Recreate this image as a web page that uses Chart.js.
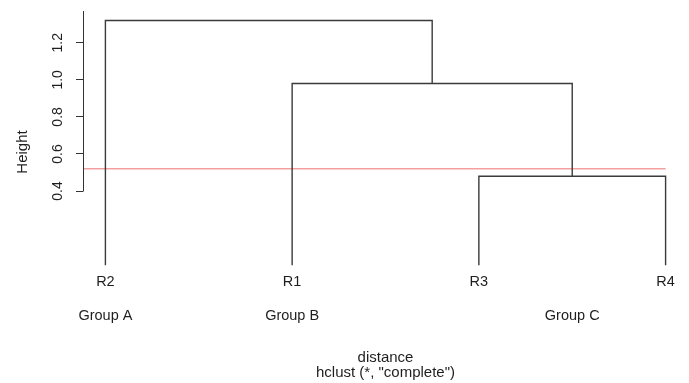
<!DOCTYPE html>
<html>
<head>
<meta charset="utf-8">
<script src="https://cdn.jsdelivr.net/npm/chart.js@4.4.1/dist/chart.umd.min.js"></script>
<style>
html,body{margin:0;padding:0;background:#fff;}
#c{display:block;}
</style>
</head>
<body>
<canvas id="c" width="689" height="383"></canvas>
<script>
// ---- data ----
const leafLabels = ['R2', 'R1', 'R3', 'R4'];
const leafPositions = [1, 2, 3, 4];
const mergeLeft = ['R3', 'R1', 'R2'];
const mergeRight = ['R4', 'M1', 'M2'];
const mergeHeights = [0.48, 0.98, 1.32];
const groupLabels = ['Group A', 'Group B', 'Group C'];
const groupPositions = [1, 2, 3.5];
const cutHeight = 0.52;
const yTicks = [0.4, 0.6, 0.8, 1.0, 1.2];
const xTitle = ['distance', 'hclust (*, "complete")'];
const yTitle = 'Height';

// ---- build dendrogram segments ----
const nodes = {};
leafLabels.forEach((l, i) => { nodes[l] = { x: leafPositions[i], h: 0 }; });
const datasets = [];
mergeHeights.forEach((h, i) => {
  const a = nodes[mergeLeft[i]], b = nodes[mergeRight[i]];
  nodes['M' + (i + 1)] = { x: (a.x + b.x) / 2, h: h };
  datasets.push({
    data: [{x: a.x, y: a.h}, {x: a.x, y: h}, {x: b.x, y: h}, {x: b.x, y: b.h}],
    borderColor: '#3a3a3a', borderWidth: 1.4, pointRadius: 0, tension: 0, fill: false
  });
});
const X_MIN = 0.88, X_MAX = 4.12;
datasets.push({
  data: [{x: X_MIN, y: cutHeight}, {x: leafPositions[leafPositions.length - 1], y: cutHeight}],
  borderColor: 'rgba(240,120,120,0.7)', borderWidth: 1.5, pointRadius: 0, fill: false
});

const textColor = '#1e1e1e';
const FONT = "'Liberation Sans', Arial, sans-serif";

const axisPlugin = {
  id: 'axisPlugin',
  afterDraw(chart) {
    const ctx = chart.ctx, y = chart.scales.y, area = chart.chartArea;
    ctx.save();
    ctx.strokeStyle = '#333';
    ctx.lineWidth = 1;
    const x = Math.round(area.left) + 0.5;
    ctx.beginPath();
    ctx.moveTo(x, Math.round(y.getPixelForValue(yTicks[0])) + 0.5);
    ctx.lineTo(x, area.top + 1);
    ctx.stroke();
    ctx.fillStyle = textColor;
    ctx.font = '15px ' + FONT;
    ctx.textAlign = 'center';
    ctx.textBaseline = 'middle';
    ctx.translate(23, 152);
    ctx.rotate(-Math.PI / 2);
    ctx.fillText(yTitle, 0, 0);
    ctx.restore();
  }
};

new Chart(document.getElementById('c'), {
  type: 'line',
  data: { datasets },
  options: {
    responsive: false,
    animation: false,
    devicePixelRatio: 1,
    layout: { padding: { top: 10, right: 1, left: 0, bottom: 0 } },
    plugins: { legend: { display: false }, tooltip: { enabled: false } },
    scales: {
      x: {
        type: 'linear', position: 'bottom', min: X_MIN, max: X_MAX,
        grid: { display: false, drawTicks: false }, border: { display: false },
        afterBuildTicks: s => { s.ticks = leafPositions.map(v => ({ value: v })); },
        afterFit: s => { s.height = 20; s.paddingLeft = 0; s.paddingRight = 0; },
        ticks: { autoSkip: false, maxRotation: 0, padding: -2, color: textColor,
          font: { family: FONT, size: 14.5 }, callback: (v, i) => leafLabels[i] }
      },
      x2: {
        type: 'linear', position: 'bottom', min: X_MIN, max: X_MAX,
        grid: { display: false, drawTicks: false }, border: { display: false },
        afterBuildTicks: s => { s.ticks = groupPositions.map(v => ({ value: v })); },
        afterFit: s => { s.height = 88; s.paddingLeft = 0; s.paddingRight = 0; },
        ticks: { autoSkip: false, maxRotation: 0, padding: 12, color: textColor,
          font: { family: FONT, size: 14.5 }, callback: (v, i) => groupLabels[i] },
        title: { display: true, text: xTitle, color: textColor,
          font: { family: FONT, size: 15, lineHeight: 1.05 }, padding: { top: 0, bottom: 2 } }
      },
      y: {
        type: 'linear', position: 'left', min: -0.053, max: 1.377,
        afterBuildTicks: s => { s.ticks = yTicks.map(v => ({ value: v })); },
        afterFit: s => { s.width = 83; s.paddingTop = 0; s.paddingBottom = 0; },
        grid: { drawOnChartArea: false, drawTicks: true, tickLength: 7, color: '#333' },
        border: { display: false },
        ticks: { minRotation: 90, maxRotation: 90, crossAlign: 'center', padding: 8,
          color: textColor, font: { family: FONT, size: 14 }, callback: v => v.toFixed(1) }
      }
    }
  },
  plugins: [axisPlugin]
});
</script>
</body>
</html>
